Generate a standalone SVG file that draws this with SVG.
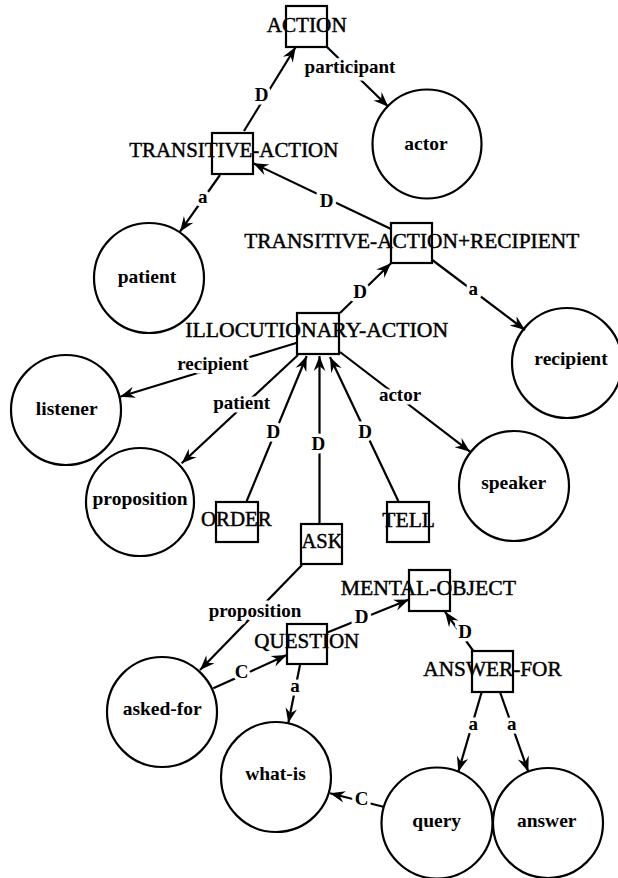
<svg xmlns="http://www.w3.org/2000/svg" width="618" height="878" viewBox="0 0 618 878">
  <style>
    .box { fill: none; stroke: #000; stroke-width: 2.2; }
    .circ { fill: none; stroke: #000; stroke-width: 2.2; }
    .edge { fill: none; stroke: #000; stroke-width: 2.2; marker-end: url(#arrow); }
    .tname { font-family: "Liberation Serif", "Times New Roman", serif; font-size: 21px; text-anchor: middle; fill: #000; stroke: #000; stroke-width: 0.45; }
    .cname { font-family: "Liberation Serif", "Times New Roman", serif; font-size: 19.5px; font-weight: bold; text-anchor: middle; fill: #000; }
    .elab { font-family: "Liberation Serif", "Times New Roman", serif; font-size: 19px; font-weight: bold; text-anchor: middle; fill: #000;
            stroke: #fff; stroke-width: 7; stroke-linejoin: round; paint-order: stroke; }
  </style>
  <defs>
    <marker id="arrow" markerUnits="userSpaceOnUse" markerWidth="18" markerHeight="14" refX="15" refY="7" orient="auto">
      <path d="M15,7 L0,1.2 L5,7 L0,12.8 Z" fill="#000"/>
    </marker>
  </defs>
  <rect width="618" height="878" fill="#fff"/>

  <!-- connectors -->
  <g id="connectors">
    <line class="edge" x1="244" y1="131" x2="295.7" y2="47"/>
    <line class="edge" x1="327" y1="47" x2="388.3" y2="106.7"/>
    <line class="edge" x1="391" y1="229" x2="253.3" y2="163.3"/>
    <line class="edge" x1="220" y1="175" x2="180" y2="231.7"/>
    <line class="edge" x1="340" y1="313" x2="391" y2="263.3"/>
    <line class="edge" x1="432.3" y1="260" x2="525" y2="330"/>
    <line class="edge" x1="297" y1="342.7" x2="120" y2="396.7"/>
    <line class="edge" x1="298" y1="355" x2="181.7" y2="463.3"/>
    <line class="edge" x1="246.7" y1="501" x2="306.7" y2="356"/>
    <line class="edge" x1="319.5" y1="524" x2="319.5" y2="356"/>
    <line class="edge" x1="398.3" y1="501" x2="330" y2="357"/>
    <line class="edge" x1="340" y1="352" x2="470" y2="451.7"/>
    <line class="edge" x1="302" y1="565" x2="200" y2="670"/>
    <line class="edge" x1="213.3" y1="688.3" x2="286.7" y2="655"/>
    <line class="edge" x1="326.7" y1="632.7" x2="409" y2="599.5"/>
    <line class="edge" x1="473.3" y1="651" x2="445" y2="611.7"/>
    <line class="edge" x1="300" y1="665" x2="288.3" y2="723"/>
    <line class="edge" x1="383.3" y1="806.7" x2="330" y2="793.3"/>
    <line class="edge" x1="481.7" y1="692" x2="458.3" y2="771.7"/>
    <line class="edge" x1="500" y1="692" x2="528.3" y2="771.7"/>

    <text class="elab" x="261.7" y="101">D</text>
    <text class="elab" x="350" y="73">participant</text>
    <text class="elab" x="326.7" y="207">D</text>
    <text class="elab" x="202.7" y="203">a</text>
    <text class="elab" x="360" y="298">D</text>
    <text class="elab" x="473.3" y="295">a</text>
    <text class="elab" x="213" y="370">recipient</text>
    <text class="elab" x="241.7" y="409">patient</text>
    <text class="elab" x="273.3" y="438">D</text>
    <text class="elab" x="318.3" y="450">D</text>
    <text class="elab" x="365" y="438">D</text>
    <text class="elab" x="400" y="401">actor</text>
    <text class="elab" x="255" y="617">proposition</text>
    <text class="elab" x="241.7" y="678">C</text>
    <text class="elab" x="361.7" y="623">D</text>
    <text class="elab" x="465" y="638">D</text>
    <text class="elab" x="295" y="692">a</text>
    <text class="elab" x="361.7" y="805">C</text>
    <text class="elab" x="473.3" y="730">a</text>
    <text class="elab" x="511.7" y="730">a</text>
  </g>

  <!-- concept types (boxes) -->
  <g id="ACTION">
    <rect class="box" x="286" y="6" width="41" height="41"/>
    <text class="tname" x="306.7" y="32" textLength="80" lengthAdjust="spacingAndGlyphs">ACTION</text>
  </g>
  <g id="TRANSITIVE-ACTION">
    <rect class="box" x="212" y="133" width="41" height="41"/>
    <text class="tname" x="233.8" y="157" textLength="209" lengthAdjust="spacingAndGlyphs">TRANSITIVE-ACTION</text>
  </g>
  <g id="TRANSITIVE-ACTION-RECIPIENT">
    <rect class="box" x="391" y="223" width="41" height="40"/>
    <text class="tname" x="411.7" y="248.3" textLength="335" lengthAdjust="spacingAndGlyphs">TRANSITIVE-ACTION+RECIPIENT</text>
  </g>
  <g id="ILLOCUTIONARY-ACTION">
    <rect class="box" x="297" y="313" width="42" height="41"/>
    <text class="tname" x="316.7" y="336.7" textLength="263" lengthAdjust="spacingAndGlyphs">ILLOCUTIONARY-ACTION</text>
  </g>
  <g id="ORDER">
    <rect class="box" x="216" y="502" width="42" height="40"/>
    <text class="tname" x="236.3" y="526" textLength="70.7" lengthAdjust="spacingAndGlyphs">ORDER</text>
  </g>
  <g id="ASK">
    <rect class="box" x="301" y="524" width="41" height="40"/>
    <text class="tname" x="322" y="548.3" textLength="41" lengthAdjust="spacingAndGlyphs">ASK</text>
  </g>
  <g id="TELL">
    <rect class="box" x="387" y="502" width="42" height="40"/>
    <text class="tname" x="408.7" y="526.7" textLength="52.7" lengthAdjust="spacingAndGlyphs">TELL</text>
  </g>
  <g id="MENTAL-OBJECT">
    <rect class="box" x="409" y="570" width="41" height="41"/>
    <text class="tname" x="428.3" y="595" textLength="175.3" lengthAdjust="spacingAndGlyphs">MENTAL-OBJECT</text>
  </g>
  <g id="QUESTION">
    <rect class="box" x="287" y="624" width="40" height="40"/>
    <text class="tname" x="306.8" y="648.3" textLength="105" lengthAdjust="spacingAndGlyphs">QUESTION</text>
  </g>
  <g id="ANSWER-FOR">
    <rect class="box" x="472" y="651" width="41" height="41"/>
    <text class="tname" x="492.5" y="676" textLength="138.4" lengthAdjust="spacingAndGlyphs">ANSWER-FOR</text>
  </g>

  <!-- roles (circles) -->
  <g id="actor">
    <circle class="circ" cx="427" cy="144" r="54.5"/>
    <text class="cname" x="426" y="150">actor</text>
  </g>
  <g id="patient">
    <circle class="circ" cx="149" cy="278" r="55"/>
    <text class="cname" x="147" y="283">patient</text>
  </g>
  <g id="recipient">
    <circle class="circ" cx="567" cy="363" r="55"/>
    <text class="cname" x="571" y="365">recipient</text>
  </g>
  <g id="listener">
    <circle class="circ" cx="66" cy="410" r="55"/>
    <text class="cname" x="66.7" y="415">listener</text>
  </g>
  <g id="proposition">
    <circle class="circ" cx="140" cy="502" r="54"/>
    <text class="cname" x="140" y="505">proposition</text>
  </g>
  <g id="speaker">
    <circle class="circ" cx="514" cy="486" r="55"/>
    <text class="cname" x="513.7" y="489">speaker</text>
  </g>
  <g id="asked-for">
    <circle class="circ" cx="162" cy="712" r="55"/>
    <text class="cname" x="162.2" y="715">asked-for</text>
  </g>
  <g id="what-is">
    <circle class="circ" cx="276" cy="777" r="55"/>
    <text class="cname" x="275.5" y="780">what-is</text>
  </g>
  <g id="query">
    <circle class="circ" cx="437" cy="823" r="55.5"/>
    <text class="cname" x="436.7" y="826.7">query</text>
  </g>
  <g id="answer">
    <circle class="circ" cx="548" cy="823" r="55"/>
    <text class="cname" x="546.7" y="826.7">answer</text>
  </g>
</svg>
